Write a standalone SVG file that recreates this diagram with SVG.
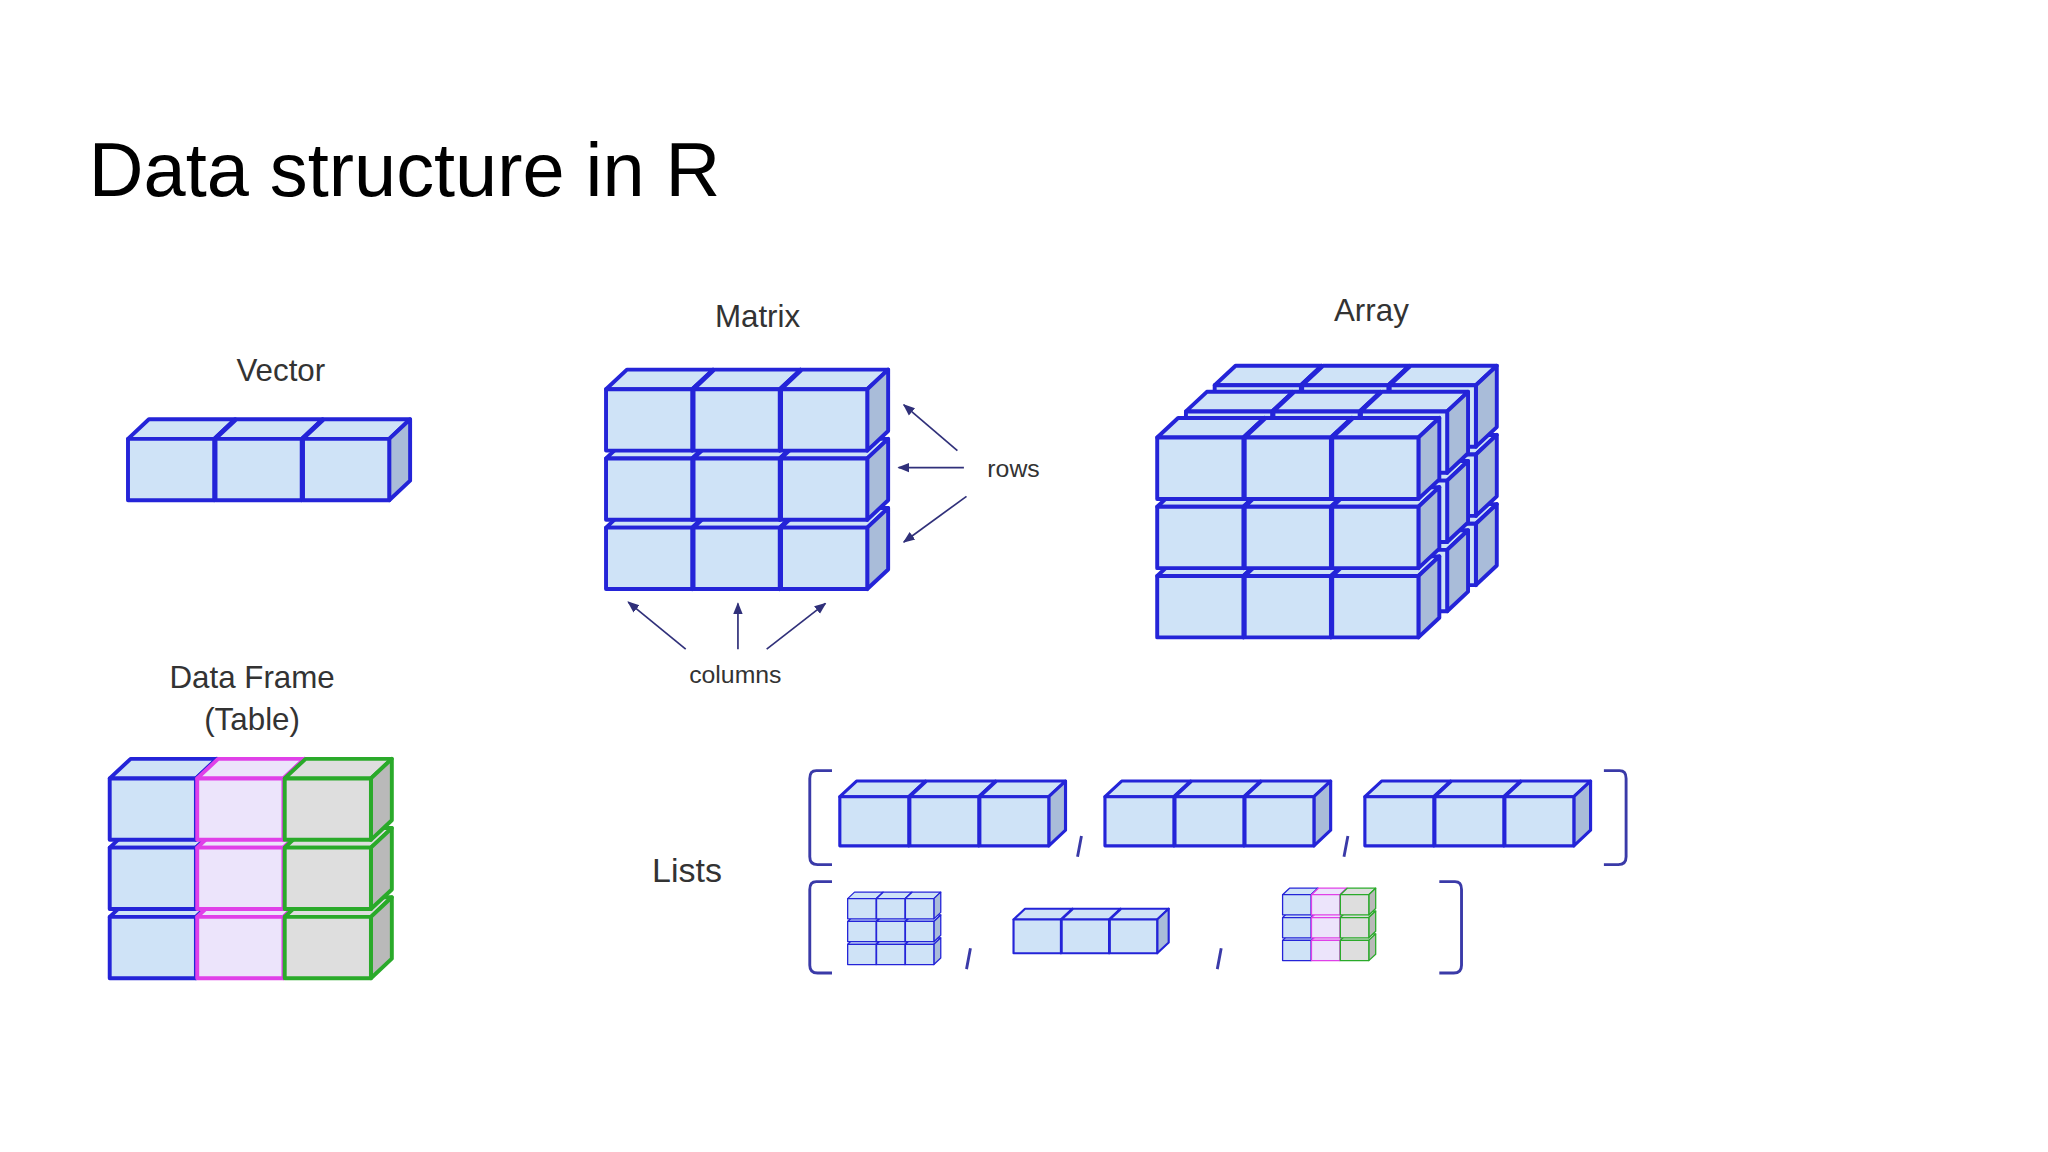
<svg xmlns="http://www.w3.org/2000/svg" width="2048" height="1152" viewBox="0 0 2048 1152">
<style>
text{font-family:"Liberation Sans",Arial,sans-serif;fill:#333}
.t{fill:#000;font-size:58px}
.l{font-size:24px;text-anchor:middle}
.s{font-size:19px;text-anchor:middle}
.br{fill:none;stroke:#3a3aa8;stroke-width:2.2}
.ar{stroke:#30307a;stroke-width:1.3;fill:none}
.fb{fill:#cfe3f7}.rb{fill:#a9bcd9}
.fp{fill:#ece4fb}.rp{fill:#c9bde0}
.fg{fill:#dedede}.rg{fill:#b9b9b9}
.sb{stroke:#2424d8;stroke-width:3;stroke-linejoin:round}
.sp{stroke:#e040e8;stroke-width:3;stroke-linejoin:round}
.sg{stroke:#2aaa2a;stroke-width:3;stroke-linejoin:round}
</style>
<defs>
<g id="cB" class="sb"><polygon class="fb" points="0,0 16,-15 82,-15 66,0"/><polygon class="rb" points="66,0 82,-15 82,32 66,47"/><rect class="fb" width="66" height="47"/></g>
<g id="cP" class="sp"><polygon class="fp" points="0,0 16,-15 82,-15 66,0"/><polygon class="rp" points="66,0 82,-15 82,32 66,47"/><rect class="fp" width="66" height="47"/></g>
<g id="cG" class="sg"><polygon class="fg" points="0,0 16,-15 82,-15 66,0"/><polygon class="rg" points="66,0 82,-15 82,32 66,47"/><rect class="fg" width="66" height="47"/></g>
<g id="vec"><use href="#cB" x="0"/><use href="#cB" x="67"/><use href="#cB" x="134"/></g>
<g id="mat"><use href="#vec" y="106"/><use href="#vec" y="53"/><use href="#vec" y="0"/></g>
<g id="dfr"><use href="#cB" x="0"/><use href="#cP" x="67"/><use href="#cG" x="134"/></g>
<g id="df"><use href="#dfr" y="106"/><use href="#dfr" y="53"/><use href="#dfr" y="0"/></g>
<marker id="ah" viewBox="0 0 10 10" refX="9" refY="5" markerWidth="7" markerHeight="7" orient="auto"><path d="M0,1 L10,5 L0,9 z" fill="#30307a"/></marker>
</defs>
<g transform="scale(1.3061)">
<text class="t" x="68" y="150">Data structure in R</text>
<g id="vector"><text class="l" x="215" y="292">Vector</text><use href="#vec" x="98" y="336"/></g>
<g id="matrix"><text class="l" x="580" y="250">Matrix</text><use href="#mat" x="464" y="298"/>
<text class="s" x="776" y="365">rows</text><text class="s" x="563" y="523">columns</text></g>
<g id="array"><text class="l" x="1050" y="246">Array</text>
<use href="#mat" x="930" y="295"/><use href="#mat" x="908" y="315"/><use href="#mat" x="886" y="335"/></g>
<g id="dataframe"><text class="l" x="193" y="527">Data Frame</text><text class="l" x="193" y="559">(Table)</text><use href="#df" x="84" y="596"/></g>
<g id="lists"><text class="l" x="526" y="675" style="font-size:26px">Lists</text>
<path class="br" d="M637,590 H625 Q620,590 620,596 V656 Q620,662 626,662 H637"/>
<path class="br" d="M1228,590 H1240 Q1245,590 1245,596 V656 Q1245,662 1239,662 H1228"/>
<use href="#vec" transform="translate(643,610) scale(0.8)"/>
<use href="#vec" transform="translate(846,610) scale(0.8)"/>
<use href="#vec" transform="translate(1045,610) scale(0.8)"/>
<path class="br" d="M828,640 L825,656 M1032,640 L1029,656"/>
<path class="br" d="M637,675 H625 Q620,675 620,681 V739 Q620,745 626,745 H637"/>
<path class="br" d="M1102,675 H1114 Q1119,675 1119,681 V739 Q1119,745 1113,745 H1102"/>
<use href="#mat" transform="translate(649,688) scale(0.33)"/>
<use href="#vec" transform="translate(776,704) scale(0.55)"/>
<use href="#df" transform="translate(982,685) scale(0.33)"/>
<path class="br" d="M743,726 L740,742 M935,726 L932,742"/></g>
<g id="connectors">
<line class="ar" x1="733" y1="345" x2="692" y2="310" marker-end="url(#ah)"/>
<line class="ar" x1="738" y1="358" x2="688" y2="358" marker-end="url(#ah)"/>
<line class="ar" x1="740" y1="380" x2="692" y2="415" marker-end="url(#ah)"/>
<line class="ar" x1="525" y1="497" x2="481" y2="461" marker-end="url(#ah)"/>
<line class="ar" x1="565" y1="497" x2="565" y2="462" marker-end="url(#ah)"/>
<line class="ar" x1="587" y1="497" x2="632" y2="462" marker-end="url(#ah)"/>
</g>
</g>
</svg>
